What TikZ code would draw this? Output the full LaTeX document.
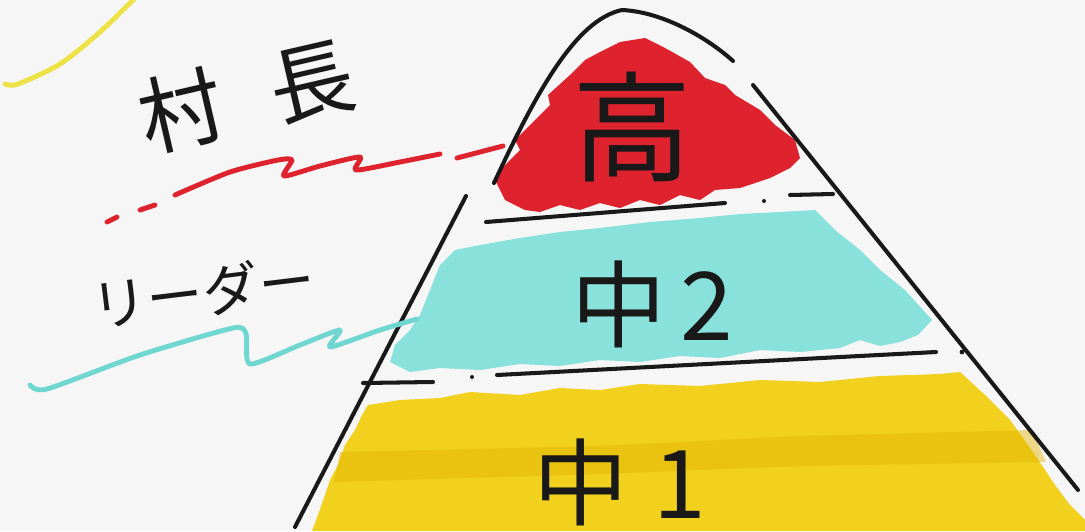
\documentclass[tikz,border=0pt]{standalone}
\usepackage{fontspec}
\newfontfamily\jpfont{Noto Sans CJK JP}
\usetikzlibrary{positioning}

\definecolor{mkred}{RGB}{222,34,46}
\definecolor{mkcyan}{RGB}{136,225,219}
\definecolor{mkline}{RGB}{112,214,208}
\definecolor{mkyellow}{RGB}{242,208,30}
\definecolor{mkgold}{RGB}{226,180,0}
\definecolor{mklemon}{RGB}{236,226,70}
\definecolor{paper}{RGB}{246,246,246}
\definecolor{ink}{RGB}{25,25,25}

\begin{document}
\begin{tikzpicture}[x=0.02cm, y=-0.02cm,
    pen/.style={draw=ink, line width=2.3pt, line cap=round, line join=round},
    marker/.style={line width=2.8pt, line cap=round, line join=round},
    layer/.style={font=\jpfont\fontsize{54}{54}\selectfont, text=ink, inner sep=0pt},
    tag/.style={text=ink, inner sep=0pt}
]

\fill[paper] (0,0) rectangle (1085,531);
\useasboundingbox (0,0) rectangle (1085,531);

% marker fills
\fill[mkred] (494,178) -- (505,165) -- (520,150) -- (515,140) -- (535,120) -- (550,105)
  -- (548,95) -- (570,75) -- (585,60) -- (600,52) -- (620,42) -- (645,38) -- (665,48)
  -- (690,62) -- (705,78) -- (725,85) -- (735,95) -- (760,110) -- (775,125) -- (795,140)
  -- (800,158) -- (790,168) -- (770,178) -- (740,188) -- (715,190) -- (700,200) -- (680,195)
  -- (660,205) -- (640,200) -- (620,208) -- (600,203) -- (580,210) -- (560,205) -- (540,212)
  -- (525,210) -- (505,200) -- cycle;
\fill[mkcyan] (430,290) -- (440,265) -- (455,250) -- (480,245) -- (520,238) -- (560,232)
  -- (600,228) -- (650,222) -- (700,218) -- (740,214) -- (780,212) -- (815,210) -- (835,230)
  -- (860,250) -- (880,270) -- (905,290) -- (932,320) -- (918,335) -- (900,342) -- (880,346)
  -- (860,340) -- (840,348) -- (800,352) -- (760,350) -- (720,358) -- (680,356) -- (640,362)
  -- (600,360) -- (560,366) -- (520,364) -- (480,370) -- (440,368) -- (410,372) -- (390,362)
  -- (395,345) -- (410,330) -- (420,315) -- cycle;
\fill[mkyellow] (368,405) -- (400,400) -- (440,398) -- (470,392) -- (520,395) -- (560,388)
  -- (600,390) -- (640,384) -- (700,386) -- (760,380) -- (820,382) -- (880,376) -- (940,374)
  -- (960,372) -- (985,395) -- (1010,420) -- (1035,455) -- (1055,485) -- (1070,505)
  -- (1085,520) -- (1085,531) -- (312,531) -- (318,515) -- (325,495) -- (330,480)
  -- (338,465) -- (345,445) -- (355,430) -- (362,415) -- cycle;
\fill[mkgold, opacity=0.45] (340,452) -- (600,446) -- (800,436) -- (1032,430) -- (1046,462)
  -- (800,466) -- (600,474) -- (334,482) -- cycle;

% pyramid outline
\draw[pen] (494,183) .. controls (535,95) and (575,20) .. (622,10)
  .. controls (665,12) and (710,40) .. (733,61);
\draw[pen] (753,85) -- (1078,490);
\draw[pen] (466,196) -- (295,527);
\draw[pen] (486,222) -- (725,203);
\draw[pen] (790,195) -- (833,194);
\draw[pen] (497,375) -- (936,352);
\draw[pen] (363,383) -- (433,382);
\fill[ink] (764,201) circle (2) (962,352) circle (2.4) (472,377) circle (2);

% leader strokes
\draw[marker, mklemon] plot[smooth] coordinates {(5,84) (18,84) (60,64) (100,32) (135,-2)};
\draw[marker, mkred] plot[smooth, tension=0.4] coordinates {(175,195) (230,172) (278,160)
  (292,160) (284,176) (320,166) (360,157) (356,170) (400,162) (440,154)};
\draw[marker, mkred] (457,158) -- (503,146);
\draw[marker, mkred] (107,222) -- (117,217);
\draw[marker, mkred] (140,210) -- (155,205);
\draw[marker, mkline] plot[smooth, tension=0.4] coordinates {(30,385) (47,389) (140,355)
  (233,328) (246,334) (250,364) (300,345) (340,330) (330,347) (380,330) (417,319)};

% labels
\node[layer, font=\jpfont\fontsize{68}{68}\selectfont] (top) at (632,127) {高};
\node[layer] (mid) at (652,304) {中\hspace{8pt}2};
\node[layer] (base) at (620,482) {中\hspace{14pt}1};
\node[tag, font=\jpfont\fontsize{48}{48}\selectfont, rotate=13] (chief) at (246,96) {村\hspace{28pt}長};
\node[tag, font=\jpfont\fontsize{32}{32}\selectfont, rotate=7] (leader) at (203,292) {リーダー};

\end{tikzpicture}
\end{document}
